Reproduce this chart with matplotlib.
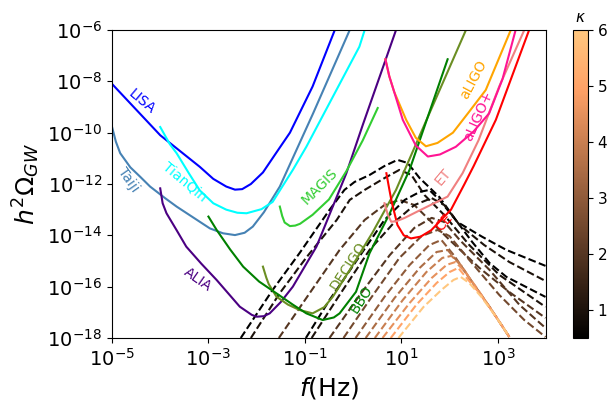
import numpy as np
import matplotlib.pyplot as plt
import matplotlib as mpl

# detector sensitivity curves, log10(f/Hz) and log10(h^2 Omega)
lisa_f = [-5, -4.5, -4, -3.5, -3.18, -2.9, -2.63, -2.45, -2.3, -2.12, -1.87, -1.6, -1.31, -0.84, -0.38]
lisa_o = [-8.1, -9.1, -10.1, -10.85, -11.33, -11.8, -12.1, -12.22, -12.2, -12.0, -11.55, -10.8, -10.0, -8.2, -6.0]

taiji_f = [-5, -4.92, -4.83, -4.62, -4.42, -4.21, -3.9, -3.66, -2.97, -2.7, -2.45, -2.25, -2.08, -1.85, -1.52, -0.83, -0.07]
taiji_o = [-9.77, -10.35, -10.8, -11.35, -11.71, -12.1, -12.55, -12.88, -13.73, -13.92, -13.99, -13.9, -13.66, -13.1, -12.1, -9.25, -6.0]

tianqin_f = [-4.0, -3.8, -3.66, -3.4, -3.18, -2.9, -2.63, -2.4, -2.21, -1.9, -1.67, -1.25, -0.97, -0.42, 0.13, 0.24]
tianqin_o = [-9.78, -10.45, -10.8, -11.6, -12.25, -12.75, -13.0, -13.12, -13.14, -12.98, -12.7, -11.45, -10.55, -8.6, -6.65, -6.0]

alia_f = [-4.0, -3.95, -3.87, -3.66, -3.46, -3.15, -2.83, -2.35, -2.1, -2.0, -1.85, -1.73, -1.5, -1.25, -0.76, -0.14, 0.2, 0.89]
alia_o = [-12.17, -12.75, -13.14, -13.8, -14.44, -15.1, -15.74, -16.78, -17.1, -17.17, -17.15, -17.04, -16.6, -16.0, -14.44, -11.58, -9.7, -6.0]

magis_f = [-1.52, -1.47, -1.42, -1.31, -1.2, -1.1, -0.84, -0.5, -0.14, 0.2, 0.51]
magis_o = [-12.88, -13.25, -13.5, -13.64, -13.62, -13.55, -13.2, -12.6, -11.5, -10.3, -9.04]

decigo_f = [-1.87, -1.8, -1.75, -1.59, -1.35, -1.11, -0.84, -0.6, -0.42, -0.07, 0.4, 0.89, 1.5, 2.34]
decigo_o = [-15.22, -15.65, -15.9, -16.39, -16.7, -16.91, -17.04, -16.8, -16.39, -15.35, -13.9, -12.23, -9.6, -6.0]

bbo_f = [-3.0, -2.83, -2.55, -2.28, -1.95, -1.59, -1.25, -0.97, -0.63, -0.4, -0.28, 0.06, 0.34, 0.76, 1.17, 1.96]
bbo_o = [-13.27, -13.79, -14.55, -15.22, -15.8, -16.26, -16.7, -17.04, -17.3, -17.2, -17.04, -16.2, -14.7, -13.14, -11.45, -7.14]

ce_f = [0.69, 0.75, 0.8, 0.92, 1.05, 1.2, 1.4, 1.62, 2.03, 2.31, 2.5, 2.96, 3.65]
ce_o = [-11.58, -12.2, -12.7, -13.6, -14.0, -14.12, -14.05, -13.8, -13.0, -12.0, -11.3, -9.5, -6.0]

et_f = [0.65, 0.72, 0.79, 0.9, 1.07, 1.41, 1.96, 2.27, 2.6, 3.03, 3.55]
et_o = [-12.75, -13.2, -13.47, -13.45, -13.32, -13.0, -12.49, -11.58, -10.3, -8.2, -6.0]

aligo_f = [0.67, 0.75, 0.85, 1.1, 1.3, 1.51, 1.75, 2.07, 2.4, 2.75, 3.27]
aligo_o = [-7.14, -7.8, -8.4, -9.5, -10.2, -10.53, -10.4, -10.0, -9.2, -8.34, -6.0]

aligop_f = [0.67, 0.75, 0.85, 1.03, 1.3, 1.55, 1.8, 2.13, 2.5, 2.82, 3.1, 3.37]
aligop_o = [-7.14, -7.8, -8.4, -9.5, -10.5, -10.93, -10.85, -10.55, -9.95, -9.25, -7.9, -6.0]

detectors = [
    ("LISA", lisa_f, lisa_o, "blue"),
    ("Taiji", taiji_f, taiji_o, "steelblue"),
    ("TianQin", tianqin_f, tianqin_o, "cyan"),
    ("ALIA", alia_f, alia_o, "indigo"),
    ("MAGIS", magis_f, magis_o, "limegreen"),
    ("DECIGO", decigo_f, decigo_o, "olivedrab"),
    ("BBO", bbo_f, bbo_o, "green"),
    ("CE", ce_f, ce_o, "red"),
    ("ET", et_f, et_o, "lightcoral"),
    ("aLIGO", aligo_f, aligo_o, "orange"),
    ("aLIGO+", aligop_f, aligop_o, "deeppink"),
]

# label positions (log10 f, log10 Omega, rotation)
labels = {
    "LISA": (-4.38, -8.8, -40),
    "Taiji": (-4.67, -11.84, -55),
    "TianQin": (-3.5, -11.9, -40),
    "ALIA": (-3.22, -15.74, -35),
    "MAGIS": (-0.69, -12.1, 45),
    "DECIGO": (-0.11, -15.2, 57),
    "BBO": (0.17, -16.5, 57),
    "ET": (1.87, -11.71, 50),
    "CE": (1.89, -13.48, 50),
    "aLIGO": (2.5, -7.95, 62),
    "aLIGO+": (2.6, -9.35, 66),
}

# GW spectra for different kappa
kappas = [0.5, 1.0, 2.0, 0.5, 1.0, 2.0, 2.5, 3.0, 3.5, 4.0, 4.5, 5.0, 6.0]
spec_f = [
    [-2.33, -1.67, -1.11, -0.49, -0.18, 0.03, 0.34, 0.65, 0.92, 1.13, 1.38, 1.79, 2.16, 2.47, 2.83, 3.18, 3.99],
    [-2.12, -1.52, -0.96, -0.34, -0.07, 0.24, 0.65, 0.96, 1.21, 1.48, 1.89, 2.41, 3.03, 3.99],
    [-1.54, -0.90, -0.28, 0.24, 0.65, 0.96, 1.27, 1.58, 2.0, 2.62, 3.24, 3.99],
    [-0.98, -0.49, 0.14, 0.65, 1.07, 1.38, 1.58, 1.79, 2.16, 2.68, 3.18, 3.99],
    [-0.86, -0.28, 0.34, 0.86, 1.27, 1.63, 1.89, 2.21, 2.72, 3.24, 3.99],
    [-0.49, 0.14, 0.76, 1.27, 1.63, 1.89, 2.21, 2.83, 3.45, 3.99],
    [-0.20, 0.34, 0.96, 1.42, 1.75, 2.0, 2.41, 3.03, 3.55, 3.99],
    [0.05, 0.65, 1.17, 1.58, 1.83, 2.10, 2.41, 2.83, 3.24],
    [0.26, 0.86, 1.38, 1.73, 1.96, 2.21, 2.52, 2.83, 3.24],
    [0.45, 1.03, 1.52, 1.85, 2.04, 2.25, 2.52, 2.83, 3.24],
    [0.61, 1.17, 1.63, 1.94, 2.12, 2.31, 2.58, 2.87, 3.24],
    [0.78, 1.31, 1.73, 2.0, 2.18, 2.37, 2.62, 2.91, 3.24],
    [0.94, 1.46, 1.83, 2.08, 2.23, 2.41, 2.66, 2.95, 3.20],
]
spec_o = [
    [-18.0, -16.13, -14.69, -13.01, -12.23, -11.92, -11.65, -11.30, -11.06, -11.18, -11.77, -12.51, -13.48, -14.26, -15.08, -15.62, -16.40],
    [-18.0, -16.25, -14.84, -13.40, -12.62, -12.23, -11.77, -11.45, -11.65, -12.43, -13.21, -14.38, -15.54, -16.79],
    [-18.0, -16.25, -14.57, -13.40, -12.82, -12.62, -12.82, -13.40, -14.18, -15.27, -16.21, -17.22],
    [-18.0, -16.52, -14.80, -13.40, -12.62, -12.31, -12.23, -12.62, -13.48, -14.06, -14.57, -15.19],
    [-18.0, -16.32, -14.57, -13.48, -12.82, -12.55, -12.82, -13.60, -14.38, -15.04, -15.78],
    [-18.0, -16.32, -14.77, -13.71, -13.32, -13.48, -14.18, -15.35, -16.71, -17.61],
    [-18.0, -16.52, -14.88, -14.03, -13.79, -14.03, -14.96, -16.32, -17.30, -17.96],
    [-18.0, -16.40, -15.16, -14.38, -14.18, -14.80, -15.66, -16.79, -17.96],
    [-18.0, -16.44, -15.27, -14.65, -14.57, -15.12, -15.97, -16.79, -17.96],
    [-18.0, -16.52, -15.43, -14.88, -14.80, -15.19, -15.97, -16.79, -17.96],
    [-18.0, -16.64, -15.66, -15.15, -15.04, -15.39, -16.09, -16.91, -17.96],
    [-18.0, -16.71, -15.86, -15.43, -15.27, -15.70, -16.25, -17.02, -17.96],
    [-18.0, -16.79, -16.13, -15.74, -15.62, -15.86, -16.40, -17.14, -17.84],
]

fig = plt.figure(figsize=(6.16, 4.11), dpi=100)
ax = fig.add_axes([112/616, 1-338/411, 434/616, 308/411])
cax = fig.add_axes([573/616, 1-338/411, 15/616, 308/411])

cmap = plt.get_cmap("copper")
norm = mpl.colors.Normalize(vmin=0.5, vmax=6)

for k, fs, os_ in zip(kappas, spec_f, spec_o):
    ax.plot(10**np.array(fs), 10**np.array(os_), "--", color=cmap(norm(k)), lw=1.5)

for name, fs, os_, c in detectors:
    ax.plot(10**np.array(fs), 10**np.array(os_), color=c, lw=1.5)
    lx, ly, rot = labels[name]
    ax.text(10**lx, 10**ly, name, color=c, fontsize=10, rotation=rot,
            ha="center", va="center")

ax.set_xscale("log")
ax.set_yscale("log")
ax.set_xlim(1e-5, 1e4)
ax.set_ylim(1e-18, 1e-6)
ax.set_xticks([1e-5, 1e-3, 1e-1, 1e1, 1e3])
ax.set_yticks([1e-18, 1e-16, 1e-14, 1e-12, 1e-10, 1e-8, 1e-6])
ax.minorticks_off()
ax.tick_params(labelsize=14)
ax.set_xlabel(r"$f$(Hz)", fontsize=18)
ax.set_ylabel(r"$h^2\Omega_{GW}$", fontsize=18)

sm = mpl.cm.ScalarMappable(norm=norm, cmap=cmap)
cb = fig.colorbar(sm, cax=cax)
cb.set_ticks([1, 2, 3, 4, 5, 6])
cb.ax.tick_params(labelsize=11)
cb.ax.set_title(r"$\kappa$", fontsize=11)

fig.savefig("out.png", dpi=100)
